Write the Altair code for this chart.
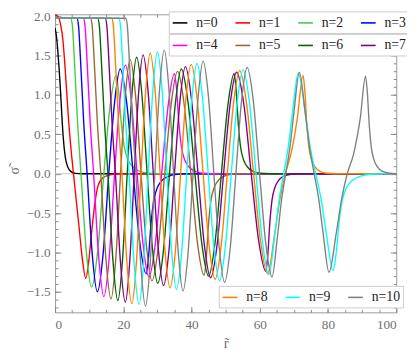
import altair as alt
import pandas as pd

# ---------------- data ----------------
labels = ["n=0", "n=1", "n=2", "n=3", "n=4", "n=5", "n=6", "n=7", "n=8", "n=9", "n=10"]
colors = ["#000000", "#ff0000", "#44cc44", "#0000ff", "#ff00ff", "#996633",
          "#006400", "#800080", "#ff8000", "#00ffff", "#808080"]

r0 = [0, 0.4, 0.8, 1.2, 1.6, 2.0, 2.4, 3.0, 3.8, 4.6, 6.0, 8.0, 100]
s0 = [1.85, 1.75, 1.56, 1.33, 1.05, 0.73, 0.46, 0.21, 0.08, 0.03, 0.005, 0, 0]

r1 = [0, 1.0, 1.6, 2.3, 2.9, 3.4, 3.9, 4.6, 5.4, 6.9, 8.0, 9.0, 9.9, 10.7, 11.6, 12.6, 14.0, 16.0, 19.0, 100]
s1 = [2.02, 1.99, 1.90, 1.70, 1.37, 1.05, 0.72, 0.35, 0.0, -0.62, -1.08, -1.33, -1.10, -0.75, -0.40, -0.15, -0.05, -0.015, 0, 0]

r2 = [0, 4.6, 5.1, 5.6, 6.6, 7.6, 9.15, 10.7, 12.5, 14.3, 16.1, 17.9, 18.6, 19.44, 20.3, 21.4, 22.8, 24.9, 27.7, 30, 100]
s2 = [1.98, 1.975, 1.87, 1.5, 0.65, 0, -0.98, -1.44, -0.98, 0, 0.85, 1.25, 1.06, 0.63, 0.34, 0.175, 0.09, 0.03, 0.006, 0, 0]

r3 = [0, 6.4, 6.9, 7.4, 8.4, 9.4, 10.9, 12.4, 14.08, 15.75, 17.43, 19.1, 21.0, 22.9, 24.8, 26.7,
      27.35, 28.13, 28.91, 29.95, 31.25, 33.2, 35.8, 38, 100]
s3 = [1.98, 1.975, 1.87, 1.5, 0.65, 0, -1.02, -1.50, -1.02, 0, 0.90, 1.33, 0.90, 0, -0.86, -1.27,
      -1.08, -0.635, -0.343, -0.178, -0.089, -0.032, -0.006, 0, 0]

r4 = [0, 8.3, 8.8, 9.3, 10.3, 11.3, 12.8, 14.3, 15.88, 17.45, 19.03, 20.6, 22.33, 24.05, 25.78, 27.5,
      29.38, 31.25, 33.13, 35.0, 35.6, 36.32, 37.04, 38.0, 39.2, 41.0, 43.4, 46, 100]
s4 = [1.98, 1.975, 1.87, 1.5, 0.65, 0, -1.06, -1.56, -1.06, 0, 0.94, 1.38, 0.94, 0, -0.89, -1.31,
      -0.89, 0, 0.86, 1.27, 1.08, 0.635, 0.343, 0.178, 0.089, 0.032, 0.006, 0, 0]

r5 = [0, 10.4, 10.9, 11.4, 12.4, 13.4, 14.9, 16.4, 17.8, 19.2, 20.6, 22.0, 23.6, 25.2, 26.8, 28.4,
      30.28, 32.15, 34.03, 35.9, 37.85, 39.8, 41.75, 43.7, 44.28, 44.97, 45.66, 46.58, 47.73, 49.45,
      51.75, 54, 100]
s5 = [1.98, 1.975, 1.87, 1.5, 0.65, 0, -1.08, -1.59, -1.08, 0, 0.99, 1.45, 0.99, 0, -0.92, -1.36,
      -0.92, 0, 0.88, 1.30, 0.88, 0, -0.88, -1.29, -1.10, -0.645, -0.348, -0.181, -0.090, -0.032,
      -0.006, 0, 0]

r6 = [0, 12.5, 13.0, 13.5, 14.5, 15.5, 16.95, 18.4, 19.78, 21.15, 22.53, 23.9, 25.45, 27.0, 28.55, 30.1,
      31.83, 33.55, 35.28, 37.0, 39.0, 41.0, 43.0, 45.0, 46.88, 48.75, 50.63, 52.5, 53.05, 53.71, 54.37,
      55.25, 56.35, 58.0, 60.2, 63, 100]
s6 = [1.98, 1.975, 1.87, 1.5, 0.65, 0, -1.09, -1.61, -1.09, 0, 1.01, 1.48, 1.01, 0, -0.95, -1.39,
      -0.95, 0, 0.90, 1.33, 0.90, 0, -0.88, -1.30, -0.88, 0, 0.86, 1.27, 1.08, 0.635, 0.343,
      0.178, 0.089, 0.032, 0.006, 0, 0]

r7 = [0, 14.7, 15.2, 15.7, 16.7, 17.7, 19.15, 20.6, 21.9, 23.2, 24.5, 25.8, 27.3, 28.8, 30.3, 31.8,
      33.4, 35.0, 36.6, 38.2, 40.05, 41.9, 43.75, 45.6, 47.5, 49.4, 51.3, 53.2, 55.35, 57.5, 59.65, 61.8,
      62.33, 62.96, 63.59, 64.43, 65.48, 67.05, 69.15, 72, 100]
s7 = [1.98, 1.975, 1.87, 1.5, 0.65, 0, -1.11, -1.63, -1.11, 0, 1.03, 1.51, 1.03, 0, -0.97, -1.42,
      -0.97, 0, 0.92, 1.36, 0.92, 0, -0.90, -1.32, -0.90, 0, 0.88, 1.29, 0.88, 0, -0.84, -1.24,
      -1.05, -0.62, -0.335, -0.174, -0.087, -0.031, -0.006, 0, 0]

r8 = [0, 16.6, 17.1, 17.6, 18.6, 19.6, 21.05, 22.5, 23.85, 25.2, 26.55, 27.9, 29.35, 30.8, 32.25, 33.7,
      35.25, 36.8, 38.35, 39.9, 41.65, 43.4, 45.15, 46.9, 48.7, 50.5, 52.3, 54.1, 56.15, 58.2, 60.25, 62.3,
      64.38, 65.94, 67.5, 69.3, 71.0, 72.7, 73.2, 73.8, 74.4, 75.2, 76.2, 77.7, 79.7, 82, 100]
s8 = [1.98, 1.975, 1.87, 1.5, 0.65, 0, -1.12, -1.65, -1.12, 0, 1.04, 1.53, 1.04, 0, -0.99, -1.45,
      -0.99, 0, 0.95, 1.39, 0.95, 0, -0.91, -1.34, -0.91, 0, 0.89, 1.31, 0.89, 0, -0.86, -1.27,
      -0.76, -0.32, 0, 0.28, 0.70, 1.25, 1.06, 0.625, 0.338, 0.175, 0.0875, 0.031, 0.006, 0, 0]

r9 = [0, 18.7, 19.2, 19.7, 20.7, 21.7, 23.15, 24.6, 25.95, 27.3, 28.65, 30.0, 31.4, 32.8, 34.2, 35.6,
      37.1, 38.6, 40.1, 41.6, 43.25, 44.9, 46.55, 48.2, 49.93, 51.65, 53.38, 55.1, 57.0, 58.9, 60.8, 62.7,
      64.42, 65.71, 67.0, 68.29, 69.58, 71.3, 73.34, 74.87, 76.4, 77.93, 79.46, 81.5,
      82.3, 83.26, 84.22, 85.5, 87.1, 89.5, 92.7, 96, 100]
s9 = [1.98, 1.975, 1.87, 1.5, 0.65, 0, -1.13, -1.66, -1.13, 0, 1.05, 1.55, 1.05, 0, -1.0, -1.47,
      -1.0, 0, 0.95, 1.40, 0.95, 0, -0.92, -1.36, -0.92, 0, 0.90, 1.32, 0.90, 0, -0.87, -1.28,
      -0.77, -0.32, 0, 0.32, 0.77, 1.28, 0.77, 0.32, 0, -0.31, -0.74, -1.23,
      -1.045, -0.615, -0.332, -0.172, -0.086, -0.031, -0.006, 0, 0]

r10 = [0, 20.7, 21.2, 21.7, 22.7, 23.7, 25.1, 26.5, 27.88, 29.25, 30.63, 32.0, 33.38, 34.75, 36.13, 37.5,
       38.98, 40.45, 41.93, 43.4, 44.98, 46.55, 48.13, 49.7, 51.35, 53.0, 54.65, 56.3, 58.13, 59.95, 61.78,
       63.6, 65.2, 66.4, 67.6, 68.8, 70.0, 71.6, 73.34, 74.65, 75.95, 77.25, 78.56, 80.3, 82.44, 84.05,
       85.65, 87.5, 89.5, 91.0, 91.5, 92.1, 92.7, 93.5, 94.5, 96.0, 98.0, 100]
s10 = [1.98, 1.975, 1.87, 1.5, 0.65, 0, -1.14, -1.68, -1.14, 0, 1.07, 1.57, 1.07, 0, -1.01, -1.49,
       -1.01, 0, 0.97, 1.43, 0.97, 0, -0.94, -1.38, -0.94, 0, 0.92, 1.35, 0.92, 0, -0.89,
       -1.31, -0.79, -0.33, 0, 0.32, 0.77, 1.29, 0.77, 0.32, 0, -0.31, -0.75, -1.25, -0.75, -0.31,
       0, 0.25, 0.72, 1.24, 1.054, 0.62, 0.335, 0.174, 0.087, 0.031, 0.006, 0]

curves_r = [r0, r1, r2, r3, r4, r5, r6, r7, r8, r9, r10]
curves_s = [s0, s1, s2, s3, s4, s5, s6, s7, s8, s9, s10]

x_major = [0, 20, 40, 60, 80, 100]
y_major = [-1.5, -1.0, -0.5, 0.0, 0.5, 1.0, 1.5, 2.0]
x_minor = [i * 5 for i in range(21)]
y_minor = [round(-1.7 + 0.1 * i, 2) for i in range(38)]

# ---------------- build table ----------------
rows = []
for i, (rr, ss) in enumerate(zip(curves_r, curves_s)):
    assert len(rr) == len(ss), (i, len(rr), len(ss))
    for r, s in zip(rr, ss):
        rows.append({"r": r, "s": s, "n": labels[i], "idx": i})
df = pd.DataFrame(rows)

FONT = "'Liberation Serif', 'Times New Roman', 'DejaVu Serif', serif"
xs = alt.Scale(domain=[0, 100], nice=False, zero=False)
ys = alt.Scale(domain=[-1.76, 2.025], nice=False, zero=False)
TICK = "#8a8a8a"

dummy = pd.DataFrame({"x": [50], "y": [0]})


def axis_layer(xaxis, yaxis):
    return alt.Chart(dummy).mark_point(opacity=0).encode(
        x=alt.X("x:Q", scale=xs, axis=xaxis),
        y=alt.Y("y:Q", scale=ys, axis=yaxis),
    )


def tick_axis(orient, values, size):
    return alt.Axis(orient=orient, values=values, tickSize=size, offset=-size,
                    labels=False, domain=False, grid=False, ticks=True,
                    tickColor=TICK, tickWidth=1, title=None)


label_layer = axis_layer(
    alt.Axis(orient="bottom", values=x_major, format="d", labels=True, ticks=False, domain=False,
             grid=False, labelFont=FONT, labelFontSize=13.5, labelColor="#707070", labelPadding=5,
             title="r\u0303", titleFont=FONT, titleFontSize=15, titleFontWeight="normal",
             titleColor="#707070", titleX=174, titleY=36, titleBaseline="alphabetic",
             titleAlign="center"),
    alt.Axis(orient="left", values=y_major, format=".1f", labels=True, ticks=False, domain=False,
             grid=False, labelFont=FONT, labelFontSize=13.5, labelColor="#707070", labelPadding=5,
             title="\u03c3\u0303", titleFont=FONT, titleFontSize=14, titleFontWeight="normal",
             titleColor="#707070", titleX=-41, titleY=159, titleAngle=270,
             titleAlign="center", titleBaseline="middle"),
)

tick_layers = [
    axis_layer(tick_axis("bottom", x_minor, 3), tick_axis("left", y_minor, 3)),
    axis_layer(tick_axis("bottom", x_major, 6), tick_axis("left", y_major, 6)),
    axis_layer(tick_axis("top", x_minor, 3), tick_axis("right", y_minor, 3)),
    axis_layer(tick_axis("top", x_major, 6), tick_axis("right", y_major, 6)),
]

zero_rule = alt.Chart(pd.DataFrame({"y": [0]})).mark_rule(color="#c8c8c8", strokeWidth=1).encode(
    y=alt.Y("y:Q", scale=ys, axis=None)
)


def line_layer(ids, lx, ly):
    sub = df[df["idx"].isin(ids)]
    dom = [labels[i] for i in ids]
    rng = [colors[i] for i in ids]
    return alt.Chart(sub).mark_line(interpolate="monotone", strokeWidth=1.4, clip=True).encode(
        x=alt.X("r:Q", scale=xs, axis=None),
        y=alt.Y("s:Q", scale=ys, axis=None),
        color=alt.Color("n:N", scale=alt.Scale(domain=dom, range=rng),
                        legend=alt.Legend(orient="none", legendX=lx, legendY=ly,
                                          direction="horizontal", columns=len(ids), title=None,
                                          symbolType="stroke", symbolSize=225, symbolStrokeWidth=1.6,
                                          labelFont=FONT, labelFontSize=14, labelColor="#222222",
                                          labelOffset=8, columnPadding=14, padding=3,
                                          fillColor="white", strokeColor="#cccccc")),
    )


lines_a = line_layer([0, 1, 2, 3], 116, -3)
lines_b = line_layer([4, 5, 6, 7], 116, 20)
lines_c = line_layer([8, 9, 10], 167, 277)

chart = alt.layer(
    zero_rule, label_layer, *tick_layers, lines_a, lines_b, lines_c
).resolve_scale(
    color="independent"
).resolve_axis(
    x="independent", y="independent"
).properties(
    width=348, height=304,
    autosize=alt.AutoSizeParams(type="none"),
    padding={"left": 48, "top": 3, "right": 11, "bottom": 37},
).configure_view(
    stroke="#9a9a9a", strokeWidth=1
)

chart.save("out.html", embed_options={"renderer": "svg", "actions": False})
